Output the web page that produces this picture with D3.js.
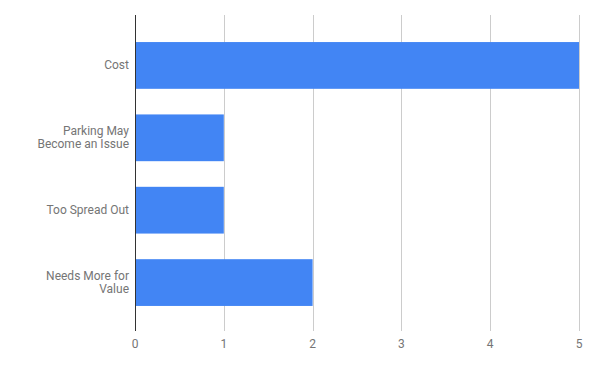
<!DOCTYPE html>
<html>
<head>
<meta charset="utf-8">
<script src="https://cdn.jsdelivr.net/npm/d3@7"></script>
<style>
  body { margin: 0; background: #fff; }
  text { font-family: Roboto, "Noto Sans", sans-serif; }
</style>
</head>
<body>
<svg width="595" height="365"></svg>
<script>
const categories = [["Cost"], ["Parking May", "Become an Issue"], ["Too Spread Out"], ["Needs More for", "Value"]];
const values = [5, 1, 1, 2];
const ticks = [0, 1, 2, 3, 4, 5];

var svg = d3.select("svg");

var x = d3.scaleLinear().domain([0, 5]).range([135, 579]);
var y = d3.scaleBand().domain(d3.range(categories.length)).range([16, 332])
    .paddingInner(0.354).paddingOuter(0.36);

// vertical grid
svg.append("g").selectAll("line").data(ticks.slice(1)).join("line")
    .attr("x1", d => Math.round(x(d)) + 0.5).attr("x2", d => Math.round(x(d)) + 0.5)
    .attr("y1", 15).attr("y2", 331)
    .attr("stroke", "#cccccc").attr("stroke-width", 1);

// bars
svg.append("g").selectAll("rect").data(values).join("rect")
    .attr("x", x(0))
    .attr("y", (d, i) => y(i))
    .attr("width", d => x(d) - x(0))
    .attr("height", y.bandwidth())
    .attr("fill", "#4285f4");

// zero baseline
svg.append("line")
    .attr("x1", Math.round(x(0)) + 0.5).attr("x2", Math.round(x(0)) + 0.5)
    .attr("y1", 15).attr("y2", 331)
    .attr("stroke", "#333333").attr("stroke-width", 1);

// tick labels
svg.append("g").selectAll("text").data(ticks).join("text")
    .attr("x", d => x(d)).attr("y", 348)
    .attr("text-anchor", "middle")
    .attr("font-size", 12).attr("fill", "#757575")
    .text(d => d);

// category labels
var lab = svg.append("g").selectAll("text").data(categories).join("text")
    .attr("text-anchor", "end")
    .attr("font-size", 12).attr("fill", "#757575")
    .attr("y", (d, i) => y(i) + y.bandwidth() / 2 - (d.length - 1) * 6.5 + 4);
lab.selectAll("tspan").data(d => d).join("tspan")
    .attr("x", 129)
    .attr("dy", (d, j) => j ? 13 : 0)
    .text(d => d);
</script>
</body>
</html>
